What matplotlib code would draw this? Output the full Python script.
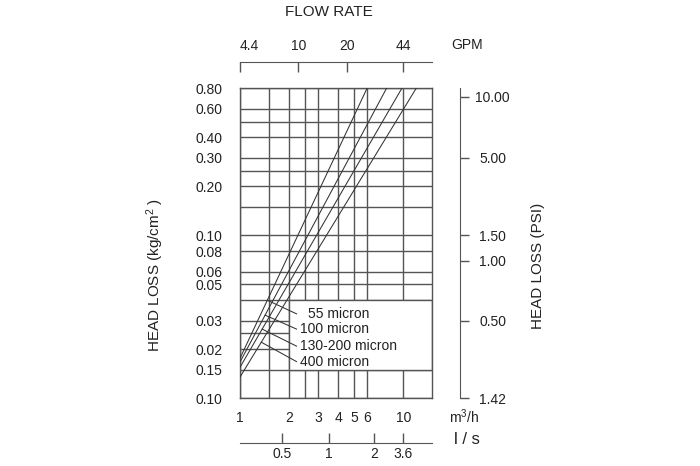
import numpy as np
import matplotlib
matplotlib.use("Agg")
import matplotlib.pyplot as plt
from matplotlib.ticker import FixedLocator, FixedFormatter, NullFormatter, NullLocator
from matplotlib.patches import Rectangle

plt.rcParams['font.family'] = ['Liberation Sans', 'DejaVu Sans']
plt.rcParams['mathtext.fontset'] = 'custom'
plt.rcParams['mathtext.rm'] = 'Liberation Sans'
plt.rcParams['mathtext.it'] = 'Liberation Sans:italic'

# filter lines: flow (m3/h) and head loss (kg/cm2) at both ends
series = ['55 micron', '100 micron', '130-200 micron', '400 micron']
flow_start = [1.0, 1.0, 1.0, 1.0]
loss_start = [0.0176, 0.0167, 0.0155, 0.0135]
flow_end = [6.0, 7.9, 9.8, 12.0]
loss_end = [0.8, 0.8, 0.8, 0.8]

# main axes ticks and grid
m3h_ticks = [1, 2, 3, 4, 5, 6, 10]
m3h_grid = [1.5, 2.5]
kg_ticks = [0.01, 0.015, 0.02, 0.03, 0.05, 0.06, 0.08, 0.1, 0.2, 0.3, 0.4, 0.6, 0.8]
kg_labels = ['0.10', '0.15', '0.02', '0.03', '0.05', '0.06', '0.08',
             '0.10', '0.20', '0.30', '0.40', '0.60', '0.80']
kg_grid = [0.025, 0.04, 0.15, 0.25, 0.5]

# secondary scales
gpm_ticks = [4.4, 10, 20, 44]
gpm_per_m3h = 4.4
ls_ticks_m3h = [1.8, 3.5, 6.6, 10]
ls_labels = ['0.5', '1', '2', '3.6']
psi_ticks_kg = [0.71, 0.30, 0.10, 0.07, 0.03, 0.01]
psi_labels = ['10.00', '5.00', '1.50', '1.00', '0.50', '1.42']

# leader lines: head loss where they leave the curve / meet the label
leader_loss = [0.04, 0.0324, 0.0266, 0.0221]
label_loss = [0.0330, 0.0266, 0.0209, 0.0168]
label_x = [2.6, 2.32, 2.32, 2.32]
leader_end_x = 2.22

grid_c = '#555555'
line_c = '#333333'
text_c = '#222222'

W, H = 700, 466
fig = plt.figure(figsize=(7, 4.66), dpi=100)
ax = fig.add_axes([240 / W, 1 - 398.3 / H, 192 / W, 310 / H])
ax.set_xscale('log')
ax.set_yscale('log')
ax.set_xlim(1, 15)
ax.set_ylim(0.01, 0.8)

ax.xaxis.set_major_locator(FixedLocator(m3h_ticks))
ax.xaxis.set_major_formatter(FixedFormatter([str(t) for t in m3h_ticks]))
ax.xaxis.set_minor_locator(FixedLocator(m3h_grid))
ax.xaxis.set_minor_formatter(NullFormatter())
ax.yaxis.set_major_locator(FixedLocator(kg_ticks))
ax.yaxis.set_major_formatter(FixedFormatter(kg_labels))
ax.yaxis.set_minor_locator(FixedLocator(kg_grid))
ax.yaxis.set_minor_formatter(NullFormatter())
ax.tick_params(which='both', length=0, labelsize=10, labelcolor=text_c)
ax.tick_params(axis='x', pad=9.5)
ax.tick_params(axis='y', pad=12.7)
ax.grid(True, which='both', color=grid_c, lw=1.0)
for s in ax.spines.values():
    s.set_color(grid_c)
    s.set_linewidth(1.0)

# blank area behind the labels
ax.add_patch(Rectangle((2, 0.015), 13, 0.025, facecolor='white',
                       edgecolor=grid_c, lw=1.0, zorder=2))

for i, name in enumerate(series):
    ax.plot([flow_start[i], flow_end[i]], [loss_start[i], loss_end[i]],
            color=line_c, lw=0.75, zorder=3)
    # point on the curve for the leader line (straight in log-log)
    frac = (np.log10(leader_loss[i]) - np.log10(loss_start[i])) / \
           (np.log10(loss_end[i]) - np.log10(loss_start[i]))
    xc = 10 ** (np.log10(flow_start[i]) +
                frac * (np.log10(flow_end[i]) - np.log10(flow_start[i])))
    ax.plot([xc, leader_end_x], [leader_loss[i], label_loss[i]],
            color=line_c, lw=0.75, zorder=3)
    ax.text(label_x[i], label_loss[i], name, fontsize=10, color=text_c,
            ha='left', va='center', zorder=4)

# right PSI scale
ax_r = ax.twinx()
ax_r.set_yscale('log')
ax_r.set_ylim(0.01, 0.8)
ax_r.spines['right'].set_position(('outward', 28.4 * 0.72))
for s in ['top', 'left', 'bottom']:
    ax_r.spines[s].set_visible(False)
ax_r.spines['right'].set_color(grid_c)
ax_r.yaxis.set_major_locator(FixedLocator(psi_ticks_kg))
ax_r.yaxis.set_major_formatter(FixedFormatter(psi_labels))
ax_r.yaxis.set_minor_locator(NullLocator())
ax_r.tick_params(axis='y', length=6.5, width=1, color=grid_c, pad=16.8,
                 labelsize=10, labelcolor=text_c)
for lbl in ax_r.get_yticklabels():
    lbl.set_ha('center')

# top GPM scale
ax_t = ax.twiny()
ax_t.set_xscale('log')
ax_t.set_xlim(1, 15)
ax_t.spines['top'].set_position(('outward', 26.6 * 0.72))
for s in ['right', 'left', 'bottom']:
    ax_t.spines[s].set_visible(False)
ax_t.spines['top'].set_color(grid_c)
ax_t.xaxis.set_major_locator(FixedLocator(np.array(gpm_ticks) / gpm_per_m3h))
ax_t.xaxis.set_major_formatter(FixedFormatter([str(g) for g in gpm_ticks]))
ax_t.xaxis.set_minor_locator(NullLocator())
ax_t.tick_params(axis='x', direction='in', length=7.2, width=1, color=grid_c,
                 pad=6.3, labelsize=10, labelcolor=text_c)
ax_t.get_xticklabels()[0].set_ha('left')

# bottom l/s scale
ax_b = ax.twiny()
ax_b.set_xscale('log')
ax_b.set_xlim(1, 15)
ax_b.xaxis.set_ticks_position('bottom')
ax_b.spines['bottom'].set_position(('outward', 44.4 * 0.72))
for s in ['right', 'left', 'top']:
    ax_b.spines[s].set_visible(False)
ax_b.spines['bottom'].set_visible(True)
ax_b.spines['bottom'].set_color(grid_c)
ax_b.xaxis.set_major_locator(FixedLocator(ls_ticks_m3h))
ax_b.xaxis.set_major_formatter(FixedFormatter(ls_labels))
ax_b.xaxis.set_minor_locator(NullLocator())
ax_b.tick_params(axis='x', direction='in', length=7.2, width=1, color=grid_c,
                 pad=2.9, labelsize=10, labelcolor=text_c)

# titles and unit labels
def ftext(x, y, s, **kw):
    fig.text(x / W, 1 - y / H, s, ha='center', va='center', color=text_c, **kw)

ftext(329, 11.5, 'FLOW RATE', fontsize=11)
ftext(466.7, 45, 'GPM', fontsize=10)
ftext(464, 417, r'm$^3$/h', fontsize=10)
ftext(467, 439, 'l / s', fontsize=12)
ftext(155, 275, r'HEAD LOSS (kg/cm$^2$ )', fontsize=11, rotation=90)
ftext(538, 266, 'HEAD LOSS (PSI)', fontsize=11, rotation=90)

fig.savefig('out.png', dpi=100)
